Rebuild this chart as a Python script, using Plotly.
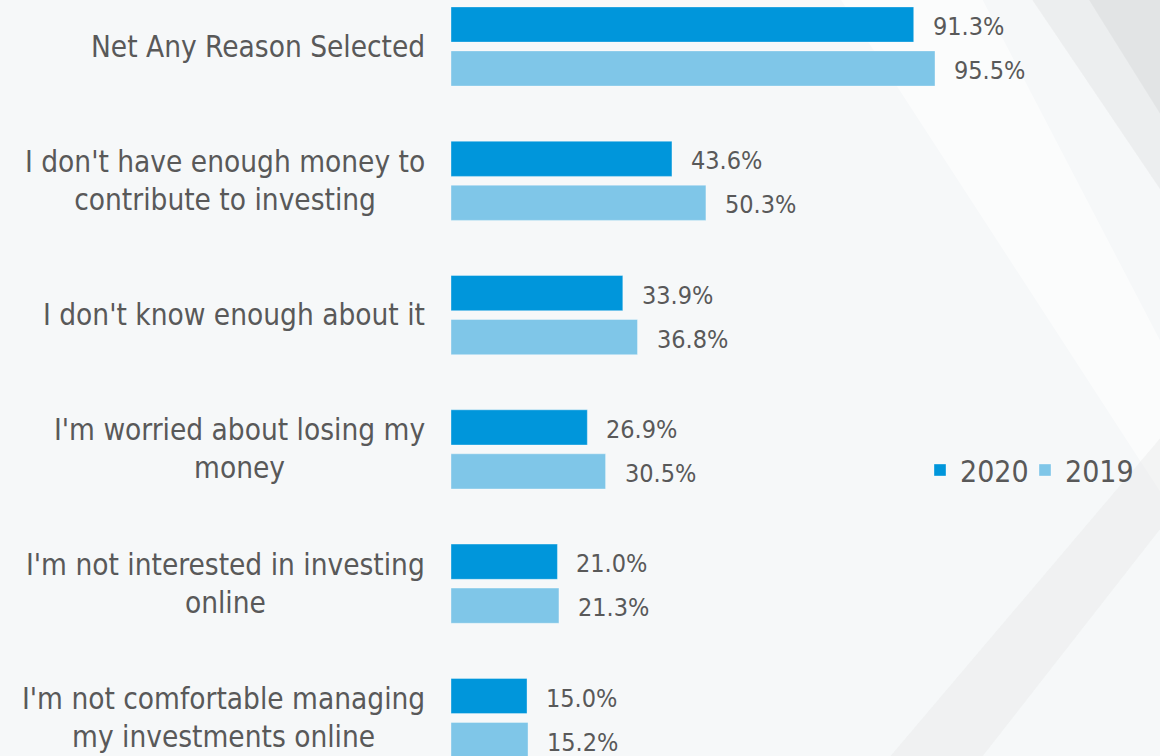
import plotly.graph_objects as go

categories = [
    "Net Any Reason Selected",
    "I don't have enough money to<br>contribute to investing",
    "I don't know enough about it",
    "I'm worried about losing my<br>money",
    "I'm not interested in investing<br>online",
    "I'm not comfortable managing<br>my investments online",
]
values_2020 = [91.3, 43.6, 33.9, 26.9, 21.0, 15.0]
values_2019 = [95.5, 50.3, 36.8, 30.5, 21.3, 15.2]
series_names = ["2020", "2019"]
colors = ["#0096DB", "#7FC6E8"]

W, H = 1160, 756
left = 451
px_per_pct = 5.068
cat_step = 134.3
first_center = 46.5

xmax = (W - left) / px_per_pct
y_top = -first_center / cat_step
y_bot = (H - first_center) / cat_step

font_family = "DejaVu Sans Condensed"
text_color = "#595959"

fig = go.Figure()
for i, (name, vals, col) in enumerate(zip(series_names, [values_2020, values_2019], colors)):
    fig.add_trace(go.Bar(
        y=categories, x=vals, name=name, orientation="h",
        marker=dict(color=col, line=dict(color="rgba(255,255,255,0.35)", width=1)),
        hoverinfo="x+y",
        legend="legend" if i == 0 else "legend2",
    ))

annotations = []
# value labels
for ti, vals in enumerate([values_2020, values_2019]):
    offset = -0.1638 if ti == 0 else 0.1638
    for ci, v in enumerate(vals):
        annotations.append(dict(
            x=v, y=ci + offset, xref="x", yref="y",
            text=f"{v:.1f}%", showarrow=False, xanchor="left", yanchor="middle",
            xshift=17, yshift=-2,
            font=dict(family=font_family, size=25, color=text_color),
        ))
# category labels
for ci, c in enumerate(categories):
    annotations.append(dict(
        x=0, y=ci, xref="paper", yref="y", text=c, showarrow=False,
        xanchor="right", yanchor="middle", align="center", xshift=-24,
        font=dict(family=font_family, size=29.5, color=text_color),
    ))

# subtle background swooshes
shapes = [
    dict(type="path", xref="paper", yref="paper", layer="below",
         path="M 0.55 1 L 0.75 1 L 1 0.55 L 1 0.35 Z",
         fillcolor="rgba(255,255,255,0.55)", line=dict(width=0)),
    dict(type="path", xref="paper", yref="paper", layer="below",
         path="M 0.82 1 L 1 1 L 1 0.75 Z",
         fillcolor="rgba(200,200,200,0.2)", line=dict(width=0)),
    dict(type="path", xref="paper", yref="paper", layer="below",
         path="M 0.9 1 L 1 1 L 1 0.85 Z",
         fillcolor="rgba(190,190,190,0.2)", line=dict(width=0)),
    dict(type="path", xref="paper", yref="paper", layer="below",
         path="M 0.62 0 L 0.75 0 L 1 0.3 L 1 0.42 Z",
         fillcolor="rgba(225,225,225,0.3)", line=dict(width=0)),
]

legend_common = dict(
    orientation="h", xanchor="left", y=1 - 470 / H, yanchor="middle",
    font=dict(family=font_family, size=30, color=text_color),
    bgcolor="rgba(0,0,0,0)", itemwidth=30,
)

fig.update_layout(
    width=W, height=H,
    margin=dict(l=left, r=0, t=0, b=0, pad=0),
    paper_bgcolor="#F6F8F9", plot_bgcolor="rgba(0,0,0,0)",
    barmode="group", bargap=0.345, bargroupgap=0.2,
    xaxis=dict(range=[0, xmax], visible=False, fixedrange=True),
    yaxis=dict(type="category", range=[y_bot, y_top], showticklabels=False,
               showgrid=False, zeroline=False, showline=False, ticks="", fixedrange=True),
    legend=dict(x=(920 - left) / (W - left), **legend_common),
    legend2=dict(x=(1025 - left) / (W - left), **legend_common),
    annotations=annotations,
    shapes=shapes,
    showlegend=True,
)

fig.write_html(
    "out.html",
    config={"displayModeBar": False},
    post_script="document.body.style.margin='0';document.body.style.background='#F6F8F9';",
)
